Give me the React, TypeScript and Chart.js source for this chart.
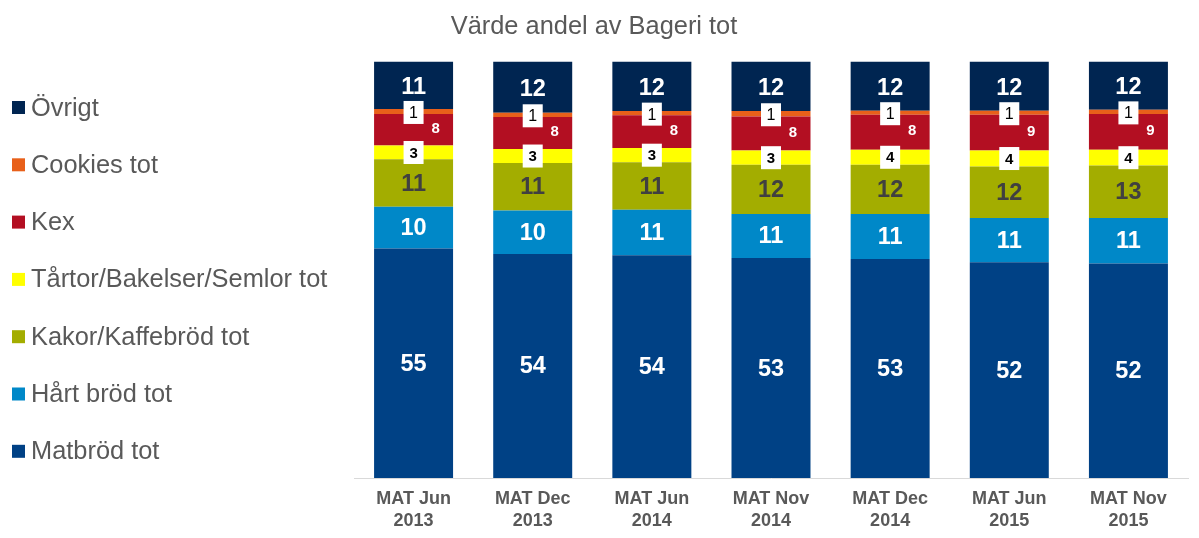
import React, { useEffect, useRef } from "react";
import { Chart, registerables } from "chart.js";

Chart.register(...registerables);

// ---- Data ----
const categories = [
  ["MAT Jun", "2013"],
  ["MAT Dec", "2013"],
  ["MAT Jun", "2014"],
  ["MAT Nov", "2014"],
  ["MAT Dec", "2014"],
  ["MAT Jun", "2015"],
  ["MAT Nov", "2015"],
];
const seriesNames = [
  "Matbröd tot",
  "Hårt bröd tot",
  "Kakor/Kaffebröd tot",
  "Tårtor/Bakelser/Semlor tot",
  "Kex",
  "Cookies tot",
  "Övrigt",
];
const matbrod = [55.1, 53.8, 53.5, 52.8, 52.6, 51.8, 51.5];
const hartBrod = [10.0, 10.4, 10.9, 10.6, 10.8, 10.6, 10.9];
const kakor = [11.4, 11.4, 11.4, 11.8, 11.8, 12.4, 12.6];
const tartor = [3.3, 3.4, 3.4, 3.4, 3.6, 3.8, 3.8];
const kex = [7.6, 7.7, 7.9, 8.2, 8.4, 8.6, 8.6];
const cookies = [1.2, 1.0, 1.0, 1.3, 1.0, 1.0, 1.0];
const ovrigt = [11.4, 12.3, 11.9, 11.9, 11.8, 11.8, 11.6];
const seriesValues = [matbrod, hartBrod, kakor, tartor, kex, cookies, ovrigt];

// ---- Styles ----
const FONT = "'Liberation Sans', Arial, sans-serif";
const colors = ["#004185", "#0088C8", "#A3AD00", "#FFFF00", "#B30F22", "#E8601A", "#002551"];
type LabelStyle = { color: string; size: number; bold: boolean; box: boolean; dx: number; dy: number };
const labelStyles: LabelStyle[] = [
  { color: "#ffffff", size: 23.5, bold: true, box: false, dx: 0, dy: 0 },
  { color: "#ffffff", size: 23.5, bold: true, box: false, dx: 0, dy: 0 },
  { color: "#404040", size: 23.5, bold: true, box: false, dx: 0, dy: 0 },
  { color: "#000000", size: 15, bold: true, box: true, dx: 0, dy: 0 },
  { color: "#ffffff", size: 15, bold: true, box: false, dx: 22, dy: -2 },
  { color: "#000000", size: 16, bold: false, box: true, dx: 0, dy: 1 },
  { color: "#ffffff", size: 23.5, bold: true, box: false, dx: 0, dy: 1 },
];

const labelPlugin = {
  id: "segLabels",
  afterDatasetsDraw(chart: any) {
    const ctx = chart.ctx;
    ctx.save();
    chart.data.datasets.forEach((ds: any, i: number) => {
      const meta = chart.getDatasetMeta(i);
      const st = labelStyles[i];
      meta.data.forEach((bar: any, j: number) => {
        const v = ds.data[j];
        const txt = String(Math.round(v));
        const x = bar.x + st.dx;
        const y = (bar.y + bar.base) / 2 + st.dy;
        ctx.font = `${st.bold ? "bold " : ""}${st.size}px ${FONT}`;
        if (st.box) {
          ctx.fillStyle = "#ffffff";
          ctx.fillRect(x - 10, y - 11.5, 20, 23);
        }
        ctx.fillStyle = st.color;
        ctx.textAlign = "center";
        ctx.textBaseline = "middle";
        ctx.fillText(txt, x, y + 1);
      });
    });
    ctx.restore();
  },
};

const legendPlugin = {
  id: "leftLegend",
  afterDraw(chart: any) {
    const ctx = chart.ctx;
    ctx.save();
    ctx.font = `25.4px ${FONT}`;
    ctx.textAlign = "left";
    ctx.textBaseline = "middle";
    const n = seriesNames.length;
    for (let k = 0; k < n; k++) {
      const i = n - 1 - k;
      const cy = 107.5 + k * 57.3;
      ctx.fillStyle = colors[i];
      ctx.fillRect(12, cy - 6.5, 13, 13);
      ctx.fillStyle = "#595959";
      ctx.fillText(seriesNames[i], 31, cy + 1);
    }
    ctx.restore();
  },
};

export default function App() {
  const ref = useRef<HTMLCanvasElement | null>(null);
  useEffect(() => {
    document.body.style.margin = "0";
    const chart = new Chart(ref.current!, {
      type: "bar",
      data: {
        labels: categories as any,
        datasets: seriesValues.map((vals, i) => ({
          label: seriesNames[i],
          data: vals,
          backgroundColor: colors[i],
          borderWidth: 0,
          categoryPercentage: 1,
          barPercentage: 0.663,
        })),
      },
      options: {
        animation: false,
        responsive: true,
        maintainAspectRatio: false,
        layout: { padding: { left: 0, right: 11, top: 0, bottom: 7 } },
        plugins: {
          legend: { display: false },
          tooltip: { enabled: false },
          title: {
            display: true,
            text: "Värde andel av Bageri tot",
            color: "#595959",
            font: { family: FONT, size: 25.4, weight: "normal" as any },
            padding: { top: 11.5, bottom: 19.5 },
          },
        },
        scales: {
          x: {
            stacked: true,
            grid: { display: false, drawTicks: false },
            border: { display: true, color: "#d9d9d9", width: 1 },
            ticks: {
              color: "#595959",
              font: { family: FONT, size: 18, weight: "bold" as any, lineHeight: 1.17 },
              padding: 11,
              maxRotation: 0,
              autoSkip: false,
            },
            afterFit: (s: any) => {
              s.height = 53;
            },
          },
          y: {
            stacked: true,
            min: 0,
            max: 100,
            grid: { display: false, drawTicks: false },
            border: { display: false },
            ticks: { display: false },
            afterFit: (s: any) => {
              s.width = 354;
            },
          },
        },
      },
      plugins: [labelPlugin, legendPlugin],
    });
    return () => chart.destroy();
  }, []);
  return (
    <div style={{ width: 1199, height: 538, position: "relative" }}>
      <canvas ref={ref} />
    </div>
  );
}
